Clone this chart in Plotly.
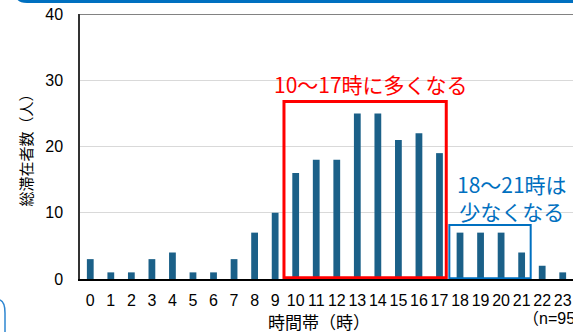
import plotly.graph_objects as go

hours = [str(h) for h in range(24)]
stayers = [3, 1, 1, 3, 4, 1, 1, 3, 7, 10, 16, 18, 18, 25, 25, 21, 22, 19, 7, 7, 7, 4, 2, 1]
y_ticks = [0, 10, 20, 30, 40]

W, H = 573, 332
L, R, T, B = 80, 0, 14, 53
pw, ph = W - L - R, H - T - B

def px(x):
    return (x - L) / pw

def py(y):
    return (H - B - y) / ph

FONT = "Liberation Sans, Noto Sans CJK JP, sans-serif"
JP = "Noto Sans CJK JP, sans-serif"
BAR = "#1B6088"
RED = "#FF0000"
BLUE = "#0070C0"

fig = go.Figure(go.Bar(x=list(range(24)), y=stayers, marker=dict(color=BAR, line=dict(width=0)),
                       width=0.33))

shapes = [
    dict(type="line", xref="paper", yref="y", x0=0, x1=1, y0=40, y1=40,
         line=dict(color="#595959", width=1.5)),
    dict(type="rect", xref="x", yref="y", x0=9.43, x1=17.33, y0=0.2, y1=26.8,
         line=dict(color=RED, width=3)),
    dict(type="rect", xref="x", yref="y", x0=17.48, x1=21.44, y0=0.1, y1=8.15,
         line=dict(color=BLUE, width=2)),
    dict(type="path", xref="paper", yref="paper",
         path=f"M {px(17)},{py(-1)} Q {px(19)},{py(3)} {px(27)},{py(3)} L {px(575)},{py(3)} L {px(575)},{py(-1)} Z",
         fillcolor=BLUE, line=dict(width=0)),
    dict(type="path", xref="paper", yref="paper",
         path=f"M {px(0)},{py(300)} Q {px(5)},{py(302)} {px(5)},{py(313)} L {px(5)},{py(335)}",
         line=dict(color="#2E86D1", width=1.5)),
]

annotations = [
    dict(text="10～17時に多くなる", xref="paper", yref="paper", x=px(371), y=py(84),
         showarrow=False, font=dict(family=JP, size=21, color=RED), xanchor="center", yanchor="middle"),
    dict(text="18～21時は<br>少なくなる", xref="paper", yref="paper", x=px(512), y=py(197),
         showarrow=False, font=dict(family=JP, size=21, color=BLUE), xanchor="center", yanchor="middle",
         align="center"),
    dict(text="総滞在者数（人）", xref="paper", yref="paper", x=px(25), y=0.5, textangle=-90,
         showarrow=False, font=dict(family=JP, size=15, color="#000"), xanchor="center", yanchor="middle"),
    dict(text="時間帯（時）", xref="paper", yref="paper", x=px(319), y=py(321),
         showarrow=False, font=dict(family=JP, size=17, color="#000"), xanchor="center", yanchor="middle"),
    dict(text="（n=95）", xref="paper", yref="paper", x=px(521), y=py(318),
         showarrow=False, font=dict(family=FONT, size=16, color="#000"), xanchor="left", yanchor="middle"),
]

fig.update_layout(
    width=W, height=H,
    margin=dict(l=L, r=R, t=T, b=B),
    paper_bgcolor="white", plot_bgcolor="white",
    showlegend=False,
    font=dict(family=FONT, size=16, color="#000"),
    shapes=shapes, annotations=annotations,
    xaxis=dict(range=[-0.5, 23.5], tickmode="array", tickvals=list(range(24)), ticktext=hours,
               showline=True, linecolor="#000", linewidth=1.5, showgrid=False, ticks="",
               ticklabelstandoff=6, tickfont=dict(size=16), zeroline=False),
    yaxis=dict(range=[0, 40], tickmode="array", tickvals=y_ticks, ticktext=[str(v) for v in y_ticks],
               showline=True, linecolor="#333", linewidth=1.5, showgrid=True, gridcolor="#D9D9D9",
               gridwidth=1, ticks="", ticklabelstandoff=12, tickfont=dict(size=16), zeroline=False),
)

fig.write_html("out.html", config={"displayModeBar": False},
               post_script="document.body.style.margin='0';document.body.style.overflow='hidden';")
